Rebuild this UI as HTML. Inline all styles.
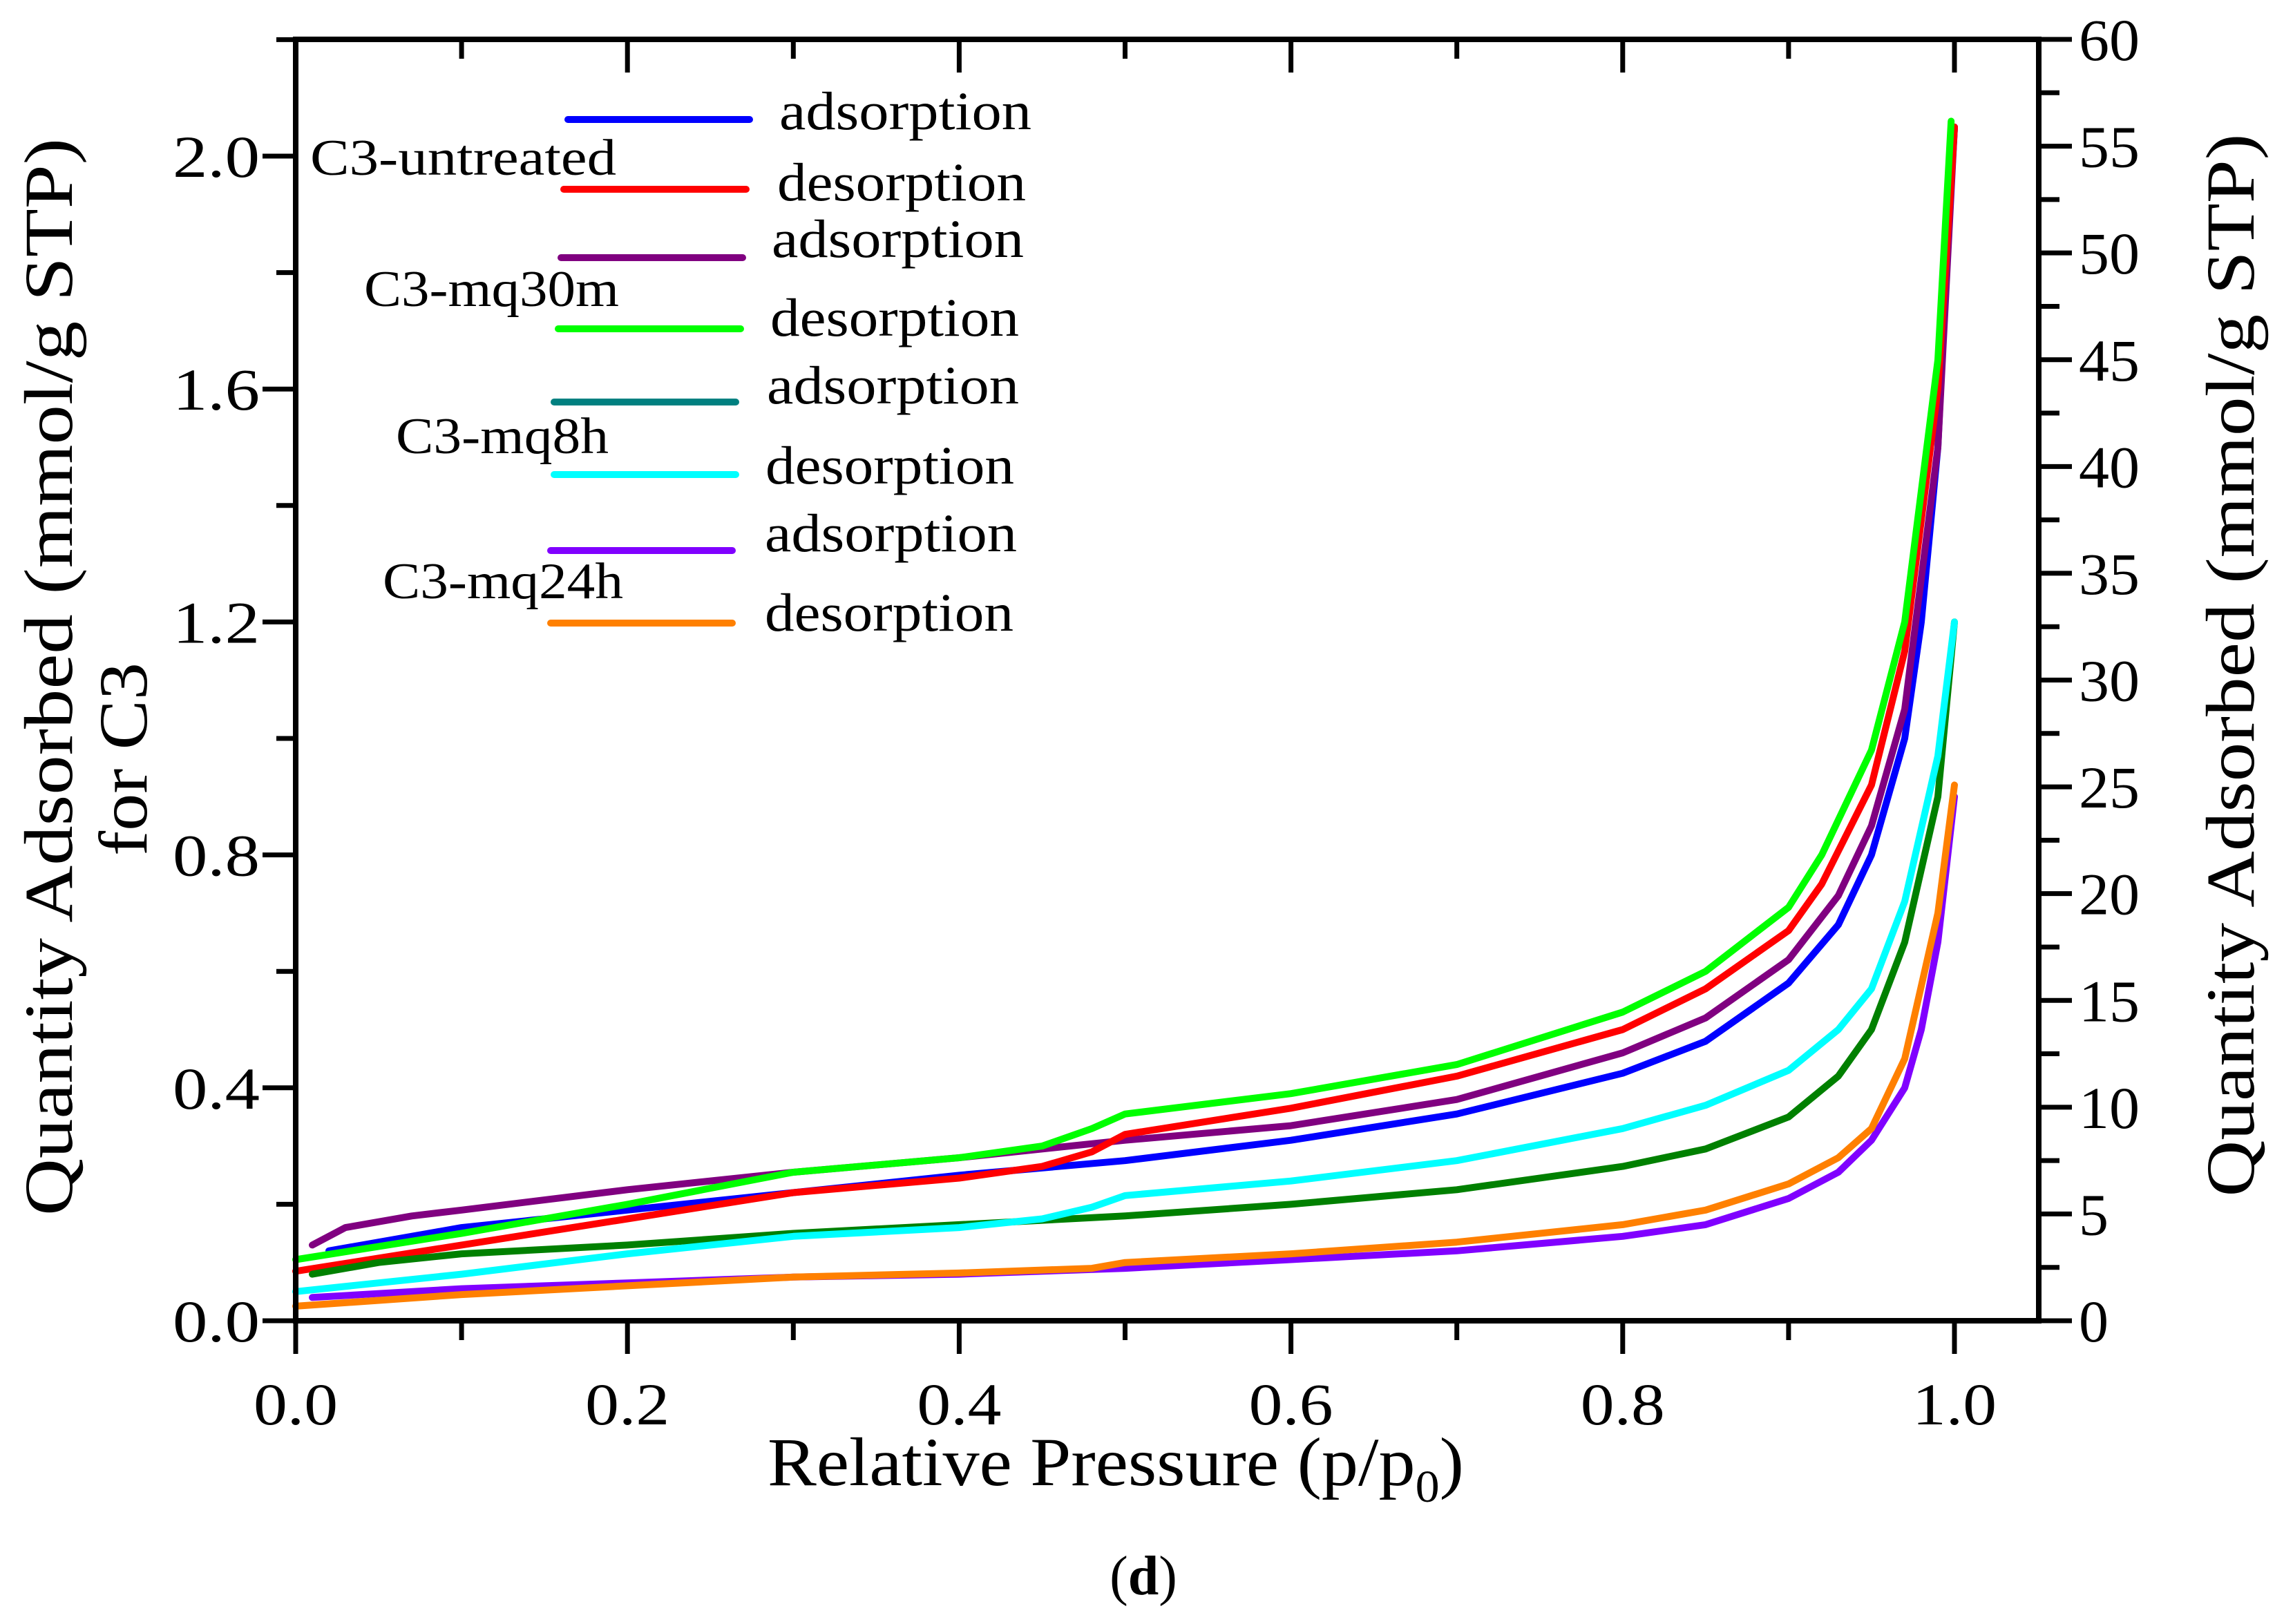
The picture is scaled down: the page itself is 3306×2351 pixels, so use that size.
<!DOCTYPE html>
<html><head><meta charset="utf-8"><style>
html,body{margin:0;padding:0;background:#fff}
svg{display:block}
text{font-family:"Liberation Serif",serif;fill:#000}
</style></head><body>
<svg id="chart" width="3306" height="2351" viewBox="0 0 3306 2351" xmlns="http://www.w3.org/2000/svg">
<g id="curves"></g>
<g id="axes"></g>
<g id="legend"></g>
<text transform="translate(104,980) rotate(-90)" text-anchor="middle" font-size="100" textLength="1560" lengthAdjust="spacingAndGlyphs">Quantity Adsorbed (mmol/g STP)</text>
<text transform="translate(212,1099) rotate(-90)" text-anchor="middle" font-size="100" textLength="280" lengthAdjust="spacingAndGlyphs">for C3</text>
<text transform="translate(3262,963) rotate(-90)" text-anchor="middle" font-size="100" textLength="1539" lengthAdjust="spacingAndGlyphs">Quantity Adsorbed (mmol/g STP)</text>
<text x="1615" y="2150" text-anchor="middle" font-size="100" textLength="1008" lengthAdjust="spacingAndGlyphs">Relative Pressure (p/p<tspan font-size="66" dy="24">0</tspan><tspan dy="-24">)</tspan></text>
<text x="1655" y="2308" text-anchor="middle" font-size="80">(<tspan font-weight="bold">d</tspan>)</text>
</svg>
<script>
const ubAdsX=[0.02,0.1,0.2,0.3,0.4,0.5,0.6,0.7,0.8,0.85,0.9,0.93,0.95,0.97,0.98,0.99,0.995,1.0];
const ubAdsY=[0.12,0.16,0.19,0.22,0.25,0.275,0.31,0.355,0.425,0.48,0.58,0.68,0.80,1.0,1.2,1.5,1.8,2.05];
const ubDesX=[0,0.1,0.2,0.3,0.4,0.45,0.48,0.5,0.6,0.7,0.8,0.85,0.9,0.92,0.95,0.97,0.99,1.0];
const ubDesY=[0.085,0.13,0.175,0.22,0.245,0.265,0.29,0.32,0.365,0.42,0.5,0.57,0.67,0.75,0.92,1.15,1.6,2.05];
const m30AdsX=[0.01,0.03,0.07,0.1,0.2,0.3,0.4,0.5,0.6,0.7,0.8,0.85,0.9,0.93,0.95,0.97,0.99,1.0];
const m30AdsY=[0.13,0.16,0.18,0.19,0.225,0.255,0.28,0.31,0.335,0.38,0.46,0.52,0.62,0.73,0.85,1.05,1.5,2.05];
const m30DesX=[0,0.1,0.2,0.3,0.4,0.45,0.48,0.5,0.6,0.7,0.8,0.85,0.9,0.92,0.95,0.97,0.99,0.998];
const m30DesY=[0.105,0.15,0.2,0.255,0.28,0.3,0.33,0.355,0.39,0.44,0.53,0.6,0.71,0.8,0.98,1.2,1.65,2.06];
const m8AdsX=[0.01,0.05,0.1,0.2,0.3,0.4,0.5,0.6,0.7,0.8,0.85,0.9,0.93,0.95,0.97,0.99,1.0];
const m8AdsY=[0.08,0.1,0.115,0.13,0.15,0.165,0.18,0.2,0.225,0.265,0.295,0.35,0.42,0.5,0.65,0.9,1.2];
const m8DesX=[0,0.1,0.2,0.3,0.4,0.45,0.48,0.5,0.6,0.7,0.8,0.85,0.9,0.93,0.95,0.97,0.99,1.0];
const m8DesY=[0.05,0.08,0.115,0.145,0.16,0.175,0.195,0.215,0.24,0.275,0.33,0.37,0.43,0.5,0.57,0.72,0.97,1.2];
const m24AdsX=[0.01,0.1,0.2,0.3,0.4,0.5,0.6,0.7,0.8,0.85,0.9,0.93,0.95,0.97,0.98,0.99,1.0];
const m24AdsY=[0.04,0.055,0.065,0.075,0.08,0.09,0.105,0.12,0.145,0.165,0.21,0.255,0.31,0.4,0.5,0.65,0.9];
const m24DesX=[0,0.1,0.2,0.3,0.4,0.48,0.5,0.6,0.7,0.8,0.85,0.9,0.93,0.95,0.97,0.99,1.0];
const m24DesY=[0.025,0.045,0.06,0.075,0.082,0.09,0.1,0.115,0.135,0.165,0.19,0.235,0.28,0.33,0.45,0.7,0.92];
const xTicks=["0.0","0.2","0.4","0.6","0.8","1.0"];
const yLeftTicks=["0.0","0.4","0.8","1.2","1.6","2.0"];
const yRightTicks=["0","5","10","15","20","25","30","35","40","45","50","55","60"];

const NS="http://www.w3.org/2000/svg";
const L=428,R=2951,T=57,B=1912;
const sx=v=>L+v*(2829-428);
const sy=v=>B-v*(B-226)/2.0;
const syr=v=>B-v*(B-T)/60;
function mk(tag,attrs,parent){const e=document.createElementNS(NS,tag);for(const k in attrs)e.setAttribute(k,attrs[k]);parent.appendChild(e);return e;}
const curves=document.getElementById('curves');
const series=[
 ["c3-untreated-adsorption",ubAdsX,ubAdsY,"#0000ff"],
 ["c3-mq30m-adsorption",m30AdsX,m30AdsY,"#800080"],
 ["c3-untreated-desorption",ubDesX,ubDesY,"#ff0000"],
 ["c3-mq30m-desorption",m30DesX,m30DesY,"#00ff00"],
 ["c3-mq8h-adsorption",m8AdsX,m8AdsY,"#008000"],
 ["c3-mq8h-desorption",m8DesX,m8DesY,"#00ffff"],
 ["c3-mq24h-adsorption",m24AdsX,m24AdsY,"#8000ff"],
 ["c3-mq24h-desorption",m24DesX,m24DesY,"#ff8000"]];
series.forEach(s=>{
 const d=s[1].map((x,i)=>(i?"L":"M")+sx(x).toFixed(1)+","+sy(s[2][i]).toFixed(1)).join(" ");
 const p=mk('path',{d:d,fill:"none",stroke:s[3],"stroke-width":10,"stroke-linejoin":"round","stroke-linecap":"round"},curves);
 
 
});
const ax=document.getElementById('axes');
const frame=mk('rect',{x:L,y:T,width:R-L,height:B-T,fill:"none",stroke:"#000","stroke-width":8},ax);


for(let i=0;i<=10;i++){const v=i*0.1,x=sx(v),len=(i%2?28:48);
 mk('line',{x1:x,y1:B,x2:x,y2:B+len,stroke:"#000","stroke-width":7},ax);
 mk('line',{x1:x,y1:T,x2:x,y2:T+len,stroke:"#000","stroke-width":7},ax);}
xTicks.forEach((t,i)=>{const e=mk('text',{x:sx(i*0.2),y:2062,"text-anchor":"middle","font-size":86,textLength:122,lengthAdjust:"spacingAndGlyphs"},ax);e.textContent=t;
 
 });
for(let i=0;i<=11;i++){const v=i*0.2,y=sy(v),len=(i%2?28:48);
 mk('line',{x1:L-len,y1:y,x2:L,y2:y,stroke:"#000","stroke-width":7},ax);}
yLeftTicks.forEach((t,i)=>{const e=mk('text',{x:L-52,y:sy(i*0.4)+30,"text-anchor":"end","font-size":86,textLength:126,lengthAdjust:"spacingAndGlyphs"},ax);e.textContent=t;
 
 });
for(let i=0;i<=24;i++){const v=i*2.5,y=syr(v),len=(i%2?30:48);
 mk('line',{x1:R,y1:y,x2:R+len,y2:y,stroke:"#000","stroke-width":7},ax);}
yRightTicks.forEach((t,i)=>{const e=mk('text',{x:R+58,y:syr(i*5)+30,"text-anchor":"start","font-size":86},ax);e.textContent=t;
 if(t.length===2){e.setAttribute('textLength',88);e.setAttribute('lengthAdjust','spacingAndGlyphs');}
 
 });
const lg=document.getElementById('legend');
const entries=[
 [822,1085,173,"#0000ff","adsorption",1128,187],
 [816,1080,274,"#ff0000","desorption",1125,290],
 [812,1075,373,"#800080","adsorption",1117,372],
 [808,1072,476,"#00ff00","desorption",1115,486],
 [802,1065,582,"#008080","adsorption",1110,584],
 [802,1065,687,"#00ffff","desorption",1108,700],
 [797,1060,797,"#8000ff","adsorption",1107,798],
 [797,1060,902,"#ff8000","desorption",1107,913]];
entries.forEach(e=>{
 const l=mk('line',{x1:e[0],y1:e[2],x2:e[1],y2:e[2],stroke:e[3],"stroke-width":10,"stroke-linecap":"round"},lg);
 
 
 const t=mk('text',{x:e[5],y:e[6],"font-size":78,textLength:(e[4]==="adsorption"?365:360),lengthAdjust:"spacingAndGlyphs"},lg);t.textContent=e[4];
 
 
});
[["C3-untreated",449,253,443],["C3-mq30m",527,443,369],["C3-mq8h",573,656,308],["C3-mq24h",554,866,348]].forEach(g=>{
 const t=mk('text',{x:g[1],y:g[2],"font-size":74,textLength:g[3],lengthAdjust:"spacingAndGlyphs"},lg);t.textContent=g[0];
 
 
});
</script>
</body></html>
